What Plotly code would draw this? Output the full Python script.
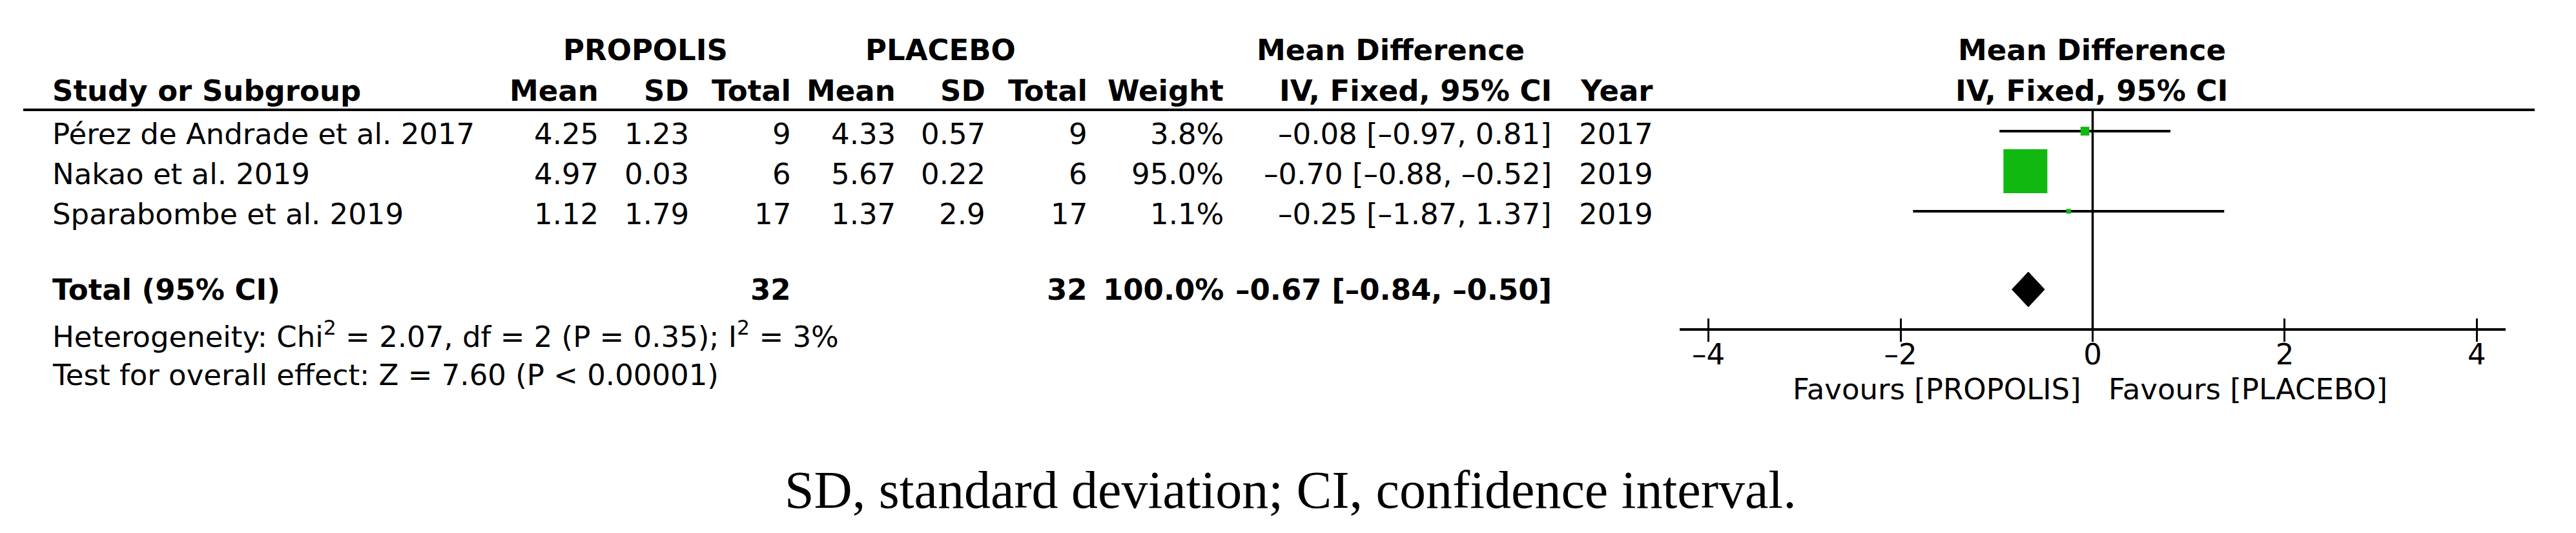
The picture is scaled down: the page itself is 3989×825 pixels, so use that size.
import plotly.graph_objects as go
import math

# ---------------- data ----------------
studies = ["Pérez de Andrade et al. 2017", "Nakao et al. 2019", "Sparabombe et al. 2019"]
prop_mean = [4.25, 4.97, 1.12]
prop_sd = [1.23, 0.03, 1.79]
prop_n = [9, 6, 17]
plac_mean = [4.33, 5.67, 1.37]
plac_sd = [0.57, 0.22, 2.9]
plac_n = [9, 6, 17]
weights = [3.8, 95.0, 1.1]
md = [-0.08, -0.70, -0.25]
ci_lo = [-0.97, -0.88, -1.87]
ci_hi = [0.81, -0.52, 1.37]
years = [2017, 2019, 2019]

total_prop_n = 32
total_plac_n = 32
total_weight = 100.0
total_md = -0.67
total_lo = -0.84
total_hi = -0.50

chi2 = 2.07
het_df = 2
het_p = 0.35
i2 = 3
z_val = 7.60
p_overall = "< 0.00001"

tick_vals = [-4, -2, 0, 2, 4]
tick_text = ["–4", "–2", "0", "2", "4"]

# ---------------- layout helpers ----------------
W, H = 3989, 825
FONT = "DejaVu Sans"
FS = 45
GREEN = "#10B810"
ROW0_PX, ROW_PX = 195, 62          # pixel centre of first study row, row pitch


def pr(px_y):
    """pixel y -> row coordinate on the y axis"""
    return (px_y - ROW0_PX) / ROW_PX


def px(x):
    return x / W


def num(v):
    s = f"{abs(v):.2f}"
    return ("–" if v < 0 else "") + s


ann = []


def txt(x, y, text, anchor="right", bold=False, size=FS, family=FONT):
    ann.append(dict(x=px(x), y=y, xref="paper", yref="y", text=(f"<b>{text}</b>" if bold else text),
                    showarrow=False, xanchor=anchor, yanchor="middle",
                    font=dict(family=family, size=size, color="black")))


# column right edges (pixels)
col = dict(pm=921, psd=1061, pn=1219, qm=1381, qsd=1520, qn=1678, w=1889, ci=2397, yr=2554)
TXT_OFF = 0.08

# header rows
hy1, hy2 = pr(69), pr(132)
txt(991, hy1, "PROPOLIS", "center", True)
txt(1448, hy1, "PLACEBO", "center", True)
txt(2145, hy1, "Mean Difference", "center", True)
txt(3231, hy1, "Mean Difference", "center", True)
txt(71, hy2, "Study or Subgroup", "left", True)
for k, lab in [("pm", "Mean"), ("psd", "SD"), ("pn", "Total"), ("qm", "Mean"), ("qsd", "SD"),
               ("qn", "Total"), ("w", "Weight"), ("ci", "IV, Fixed, 95% CI"), ("yr", "Year")]:
    txt(col[k], hy2, lab, "right", True)
txt(3231, hy2, "IV, Fixed, 95% CI", "center", True)

# study rows
for i, s in enumerate(studies):
    y = i + TXT_OFF
    txt(71, y, s, "left")
    txt(col["pm"], y, str(prop_mean[i]))
    txt(col["psd"], y, str(prop_sd[i]))
    txt(col["pn"], y, str(prop_n[i]))
    txt(col["qm"], y, str(plac_mean[i]))
    txt(col["qsd"], y, str(plac_sd[i]))
    txt(col["qn"], y, str(plac_n[i]))
    txt(col["w"], y, f"{weights[i]:.1f}%")
    txt(col["ci"], y, f"{num(md[i])} [{num(ci_lo[i])}, {num(ci_hi[i])}]")
    txt(col["yr"], y, str(years[i]))

# total row
ty = pr(440)
txt(71, ty, "Total (95% CI)", "left", True)
txt(col["pn"], ty, str(total_prop_n), "right", True)
txt(col["qn"], ty, str(total_plac_n), "right", True)
txt(col["w"], ty, f"{total_weight:.1f}%", "right", True)
txt(col["ci"], ty, f"{num(total_md)} [{num(total_lo)}, {num(total_hi)}]", "right", True)

txt(71, pr(510), f"Heterogeneity: Chi<sup>2</sup> = {chi2:.2f}, df = {het_df} (P = {het_p:.2f}); I<sup>2</sup> = {i2}%", "left")
txt(71, pr(572), f"Test for overall effect: Z = {z_val:.2f} (P {p_overall})", "left")

txt(3217, pr(594), "Favours [PROPOLIS]", "right")
txt(3255, pr(594), "Favours [PLACEBO]", "left")

txt(1990, pr(750), "SD, standard deviation; CI, confidence interval.", "center", False, 82, "Liberation Serif")

# ---------------- figure ----------------
fig = go.Figure()

rows = list(range(len(studies)))

# confidence-interval whiskers (drawn first, under the boxes)
ci_x, ci_y = [], []
for lo, hi, r in zip(ci_lo, ci_hi, rows):
    ci_x += [lo, hi, None]
    ci_y += [r, r, None]
fig.add_trace(go.Scatter(x=ci_x, y=ci_y, mode="lines", line=dict(color="black", width=4),
                         hoverinfo="skip", showlegend=False))

sizes = [68 * math.sqrt(w / 95.0) for w in weights]
fig.add_trace(go.Scatter(
    x=md, y=rows, mode="markers",
    marker=dict(symbol="square", size=sizes, color=GREEN, opacity=1, line=dict(width=0)),
    hoverinfo="skip", showlegend=False, cliponaxis=False))

half_h = 27 / ROW_PX
fig.add_trace(go.Scatter(
    x=[total_lo, total_md, total_hi, total_md, total_lo],
    y=[ty, ty - half_h, ty, ty + half_h, ty],
    mode="lines", fill="toself", fillcolor="black", line=dict(color="black", width=1),
    hoverinfo="skip", showlegend=False))

# invisible trace to host the second tick axis
fig.add_trace(go.Scatter(x=[0], y=[ty], xaxis="x2", mode="markers",
                         marker=dict(opacity=0), hoverinfo="skip", showlegend=False))

# zero line and header rule
fig.add_shape(type="line", xref="x", yref="y", x0=0, x1=0, y0=pr(162), y1=pr(502),
              line=dict(color="black", width=3.5))
fig.add_shape(type="line", xref="paper", yref="y", x0=px(28), x1=px(3917), y0=pr(162), y1=pr(162),
              line=dict(color="black", width=4))

dom = [px(2593), px(3872)]
axis_pos = 1 - 502 / H
fig.update_layout(
    width=W, height=H, margin=dict(l=0, r=0, t=0, b=0),
    paper_bgcolor="white", plot_bgcolor="white",
    annotations=ann,
    xaxis=dict(domain=dom, range=[-4.3, 4.3], anchor="free", position=axis_pos,
               showline=True, linecolor="black", linewidth=4,
               ticks="outside", ticklen=17, tickwidth=3, tickcolor="black",
               tickvals=tick_vals, showticklabels=False,
               showgrid=False, zeroline=False, fixedrange=True),
    xaxis2=dict(domain=dom, range=[-4.3, 4.3], matches="x", overlaying="x", anchor="free",
                position=axis_pos, side="bottom", showline=False,
                ticks="inside", ticklen=17, tickwidth=3, tickcolor="black",
                tickvals=tick_vals, ticktext=tick_text, showticklabels=True,
                ticklabelstandoff=8,
                tickfont=dict(family=FONT, size=FS, color="black"),
                showgrid=False, zeroline=False, fixedrange=True),
    yaxis=dict(domain=[0, 1], range=[pr(H), pr(0)], visible=False, fixedrange=True),
)

fig.write_html("out.html")
